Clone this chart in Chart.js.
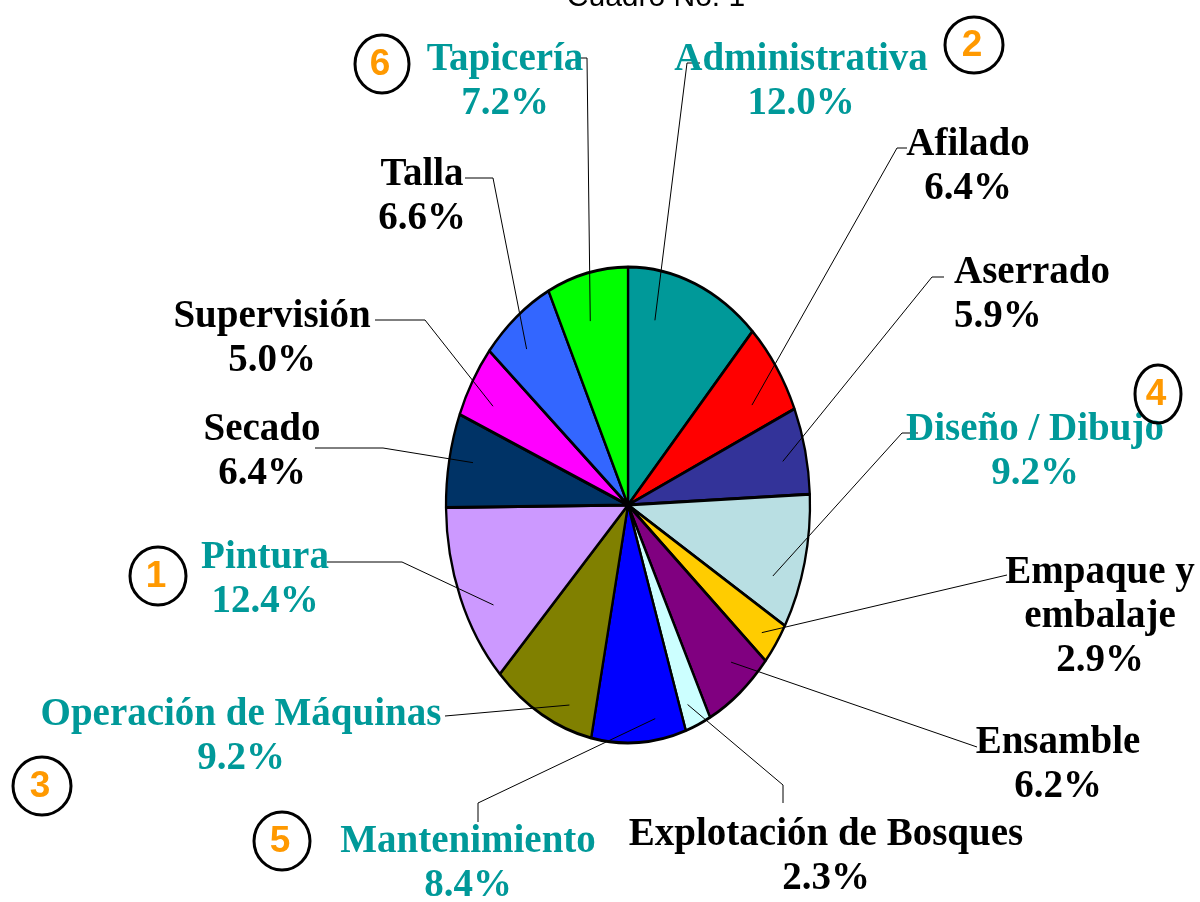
<!DOCTYPE html>
<html>
<head>
<meta charset="utf-8">
<script src="https://cdn.jsdelivr.net/npm/chart.js@4"></script>
<style>
  body { margin: 0; background: #fff; }
  #wrap { width: 1200px; height: 902px; position: relative; }
</style>
</head>
<body>
<div id="wrap"><canvas id="pieChart"></canvas></div>
<script>
// Cuadro No. 1 - distribución por área
const categories = ['Administrativa', 'Afilado', 'Aserrado', 'Diseño / Dibujo', 'Empaque y embalaje', 'Ensamble',
  'Explotación de Bosques', 'Mantenimiento', 'Operación de Máquinas', 'Pintura', 'Secado', 'Supervisión', 'Talla', 'Tapicería'];
const shares = [12.0, 6.4, 5.9, 9.2, 2.9, 6.2, 2.3, 8.4, 9.2, 12.4, 6.4, 5.0, 6.6, 7.2];
const ranks = [2, 0, 0, 4, 0, 0, 0, 5, 3, 1, 0, 0, 0, 6];
const sliceColors = ['#009999', '#FF0000', '#333399', '#B9DFE3', '#FFCC00', '#800080', '#CCFFFF',
  '#0000FF', '#808000', '#CC99FF', '#003366', '#FF00FF', '#3366FF', '#00FF00'];

const SX = 182 / 238;   // pie is squashed horizontally into an ellipse
const TEAL = '#009999';

// label placement: first baseline, alignment, leader anchor (share of slice angle, share of radius), leader path
const layout = [
  { x: 801, y: 70, align: 'center', anchor: [0.25, 0.79], path: [[687, 63], [700, 63]], badge: [974, 45, 29, 28] },
  { x: 968, y: 155, align: 'center', anchor: [0.66, 0.80], path: [[897, 148], [907, 148]] },
  { x: 954, y: 283, align: 'left', anchor: [0.55, 0.87], path: [[932, 277], [944, 277]] },
  { x: 1035, y: 440, align: 'center', anchor: [0.70, 0.85], path: [[902, 433], [918, 433]], badge: [1158, 394, 23, 29] },
  { x: 1100, y: 583, align: 'center', anchor: [0.54, 0.91], lines: ['Empaque y', 'embalaje'], path: [[1007, 575]] },
  { x: 1058, y: 753, align: 'center', anchor: [0.38, 0.87], path: [[977, 747]] },
  { x: 826, y: 845, align: 'center', anchor: [0.66, 0.90], path: [[783, 785], [783, 803]] },
  { x: 468, y: 852, align: 'center', anchor: [0.30, 0.91], path: [[478, 803], [478, 822]], badge: [282, 841, 28, 29] },
  { x: 241, y: 725, align: 'center', anchor: [0.28, 0.90], path: [[445, 716]], badge: [42, 786, 29, 29] },
  { x: 265, y: 568, align: 'center', anchor: [0.35, 0.85], path: [[402, 562], [327, 562]], badge: [158, 576, 28, 29] },
  { x: 262, y: 440, align: 'center', anchor: [0.54, 0.87], path: [[383, 448], [315, 448]] },
  { x: 272, y: 327, align: 'center', anchor: [0.38, 0.85], path: [[425, 320], [375, 320]] },
  { x: 422, y: 185, align: 'center', anchor: [0.39, 0.86], path: [[493, 178], [465, 178]] },
  { x: 505, y: 70, align: 'center', anchor: [0.42, 0.80], path: [[587, 58], [580, 58]], badge: [382, 64, 27, 29] }
];

const ellipsePlugin = {
  id: 'ellipse',
  beforeDatasetsDraw(chart) {
    const a = chart.getDatasetMeta(0).data[0];
    const ctx = chart.ctx;
    ctx.save();
    ctx.translate(a.x, a.y);
    ctx.scale(SX, 1);
    ctx.translate(-a.x, -a.y);
  },
  afterDatasetsDraw(chart) {
    chart.ctx.restore();
  }
};

const labelPlugin = {
  id: 'labels',
  afterDraw(chart) {
    const ctx = chart.ctx;
    const arcs = chart.getDatasetMeta(0).data;
    ctx.save();

    // title (cut at the top edge like the original)
    ctx.fillStyle = '#000';
    ctx.font = '30px "Liberation Sans", Arial, sans-serif';
    ctx.textAlign = 'center';
    ctx.textBaseline = 'alphabetic';
    ctx.fillText('Cuadro No. 1', 656, 6);

    // leader lines
    ctx.strokeStyle = '#000';
    ctx.lineWidth = 1;
    arcs.forEach((arc, i) => {
      const [t, rf] = layout[i].anchor;
      const ang = arc.startAngle + t * (arc.endAngle - arc.startAngle);
      const r = arc.outerRadius * rf;
      ctx.beginPath();
      ctx.moveTo(arc.x + SX * r * Math.cos(ang), arc.y + r * Math.sin(ang));
      layout[i].path.forEach(p => ctx.lineTo(p[0], p[1]));
      ctx.stroke();
    });

    // label text
    ctx.font = 'bold 39px "Liberation Serif", "Times New Roman", serif';
    arcs.forEach((arc, i) => {
      const L = layout[i];
      const lines = (L.lines || [categories[i]]).concat([shares[i].toFixed(1) + '%']);
      ctx.fillStyle = ranks[i] ? TEAL : '#000';
      ctx.textAlign = L.align;
      lines.forEach((txt, k) => ctx.fillText(txt, L.x, L.y + k * 44));
    });

    // ranking badges
    layout.forEach((L, i) => {
      if (!L.badge) return;
      const [bx, by, rx, ry] = L.badge;
      ctx.beginPath();
      ctx.ellipse(bx, by, rx, ry, 0, 0, Math.PI * 2);
      ctx.lineWidth = 3;
      ctx.strokeStyle = '#000';
      ctx.stroke();
      ctx.fillStyle = '#FF9900';
      ctx.font = 'bold 37px "Liberation Sans", Arial, sans-serif';
      ctx.textAlign = 'center';
      ctx.textBaseline = 'middle';
      ctx.fillText(String(ranks[i]), bx - 2, by + 1);
      ctx.textBaseline = 'alphabetic';
    });
    ctx.restore();
  }
};

const ctx = document.getElementById('pieChart').getContext('2d');
new Chart(ctx, {
  type: 'pie',
  data: {
    labels: categories,
    datasets: [{
      data: shares,
      backgroundColor: sliceColors,
      borderColor: '#000',
      borderWidth: 3
    }]
  },
  options: {
    responsive: true,
    maintainAspectRatio: false,
    animation: false,
    radius: 238,
    layout: { padding: { left: 56, right: 0, top: 108, bottom: 0 } },
    plugins: {
      legend: { display: false },
      tooltip: { enabled: false }
    }
  },
  plugins: [ellipsePlugin, labelPlugin]
});
</script>
</body>
</html>
